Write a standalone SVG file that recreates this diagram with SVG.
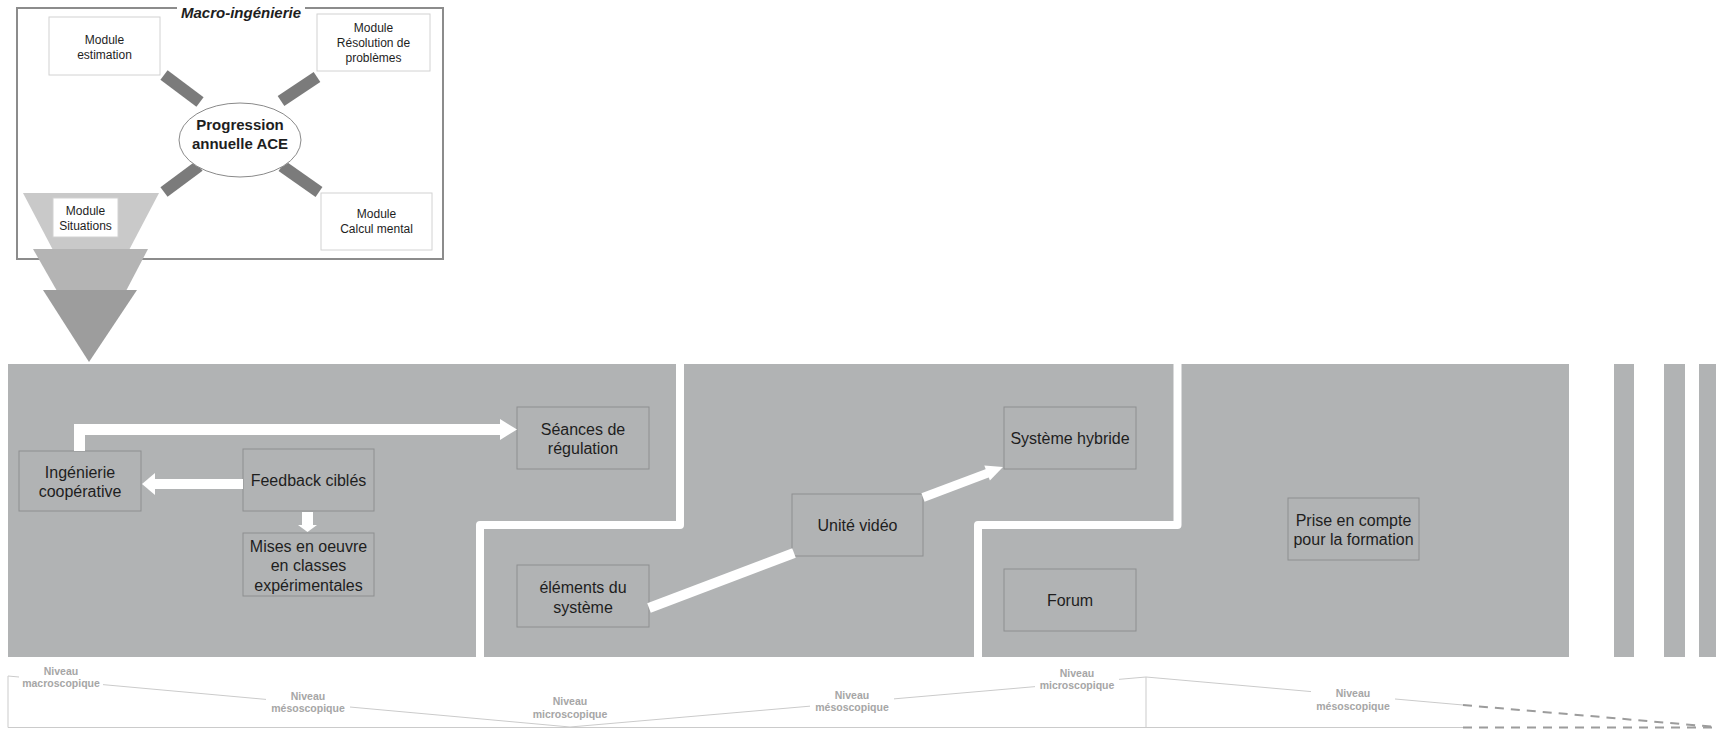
<svg xmlns="http://www.w3.org/2000/svg" width="1716" height="729" viewBox="0 0 1716 729">
<style>
.t{font-family:"Liberation Sans",Arial,sans-serif;fill:#1e1e1e;text-anchor:middle}
.m{font-size:12px}
.n{font-size:16px}
.b{font-weight:bold}
.box{fill:#b1b3b4;stroke:#8e8f90;stroke-width:1}
.mbox{fill:#fff;stroke:#d2d2d2;stroke-width:1}
.lvl{font-family:"Liberation Sans",Arial,sans-serif;font-size:10.5px;font-weight:bold;fill:#a6a6a6;text-anchor:middle}
.bar{stroke:#7b7b7b;stroke-width:12}
.wl{fill:none;stroke:#fff}
.lv{fill:none;stroke:#cbcbcb;stroke-width:1}
</style>
<rect width="1716" height="729" fill="#fff"/>

<g id="macro-ingenierie">
  <rect x="17" y="8" width="426" height="251" fill="#fff" stroke="#8c8c8c" stroke-width="2"/>
  <rect x="177" y="2" width="128" height="18" fill="#fff"/>
  <text class="t b" x="241" y="18" font-size="15" font-style="italic">Macro-ingénierie</text>
</g>

<g id="module-estimation">
  <rect class="mbox" x="49" y="17" width="111" height="58"/>
  <text class="t m" x="104.5" y="44">Module</text>
  <text class="t m" x="104.5" y="59">estimation</text>
</g>

<g id="module-resolution">
  <rect class="mbox" x="317" y="14" width="113" height="57"/>
  <text class="t m" x="373.5" y="32">Module</text>
  <text class="t m" x="373.5" y="47">Résolution de</text>
  <text class="t m" x="373.5" y="62">problèmes</text>
</g>

<g id="module-calcul">
  <rect class="mbox" x="321" y="193" width="111" height="57"/>
  <text class="t m" x="376.5" y="218">Module</text>
  <text class="t m" x="376.5" y="233">Calcul mental</text>
</g>

<g id="macro-connectors">
  <line class="bar" x1="164" y1="75" x2="200" y2="102"/>
  <line class="bar" x1="317" y1="77" x2="281" y2="101"/>
  <line class="bar" x1="199" y1="166" x2="164" y2="192"/>
  <line class="bar" x1="282" y1="166" x2="319" y2="192"/>
</g>

<g id="progression">
  <ellipse cx="240" cy="140" rx="61" ry="37" fill="#fff" stroke="#8a8a8a" stroke-width="1"/>
  <text class="t b" x="240" y="130" font-size="15">Progression</text>
  <text class="t b" x="240" y="149" font-size="15">annuelle ACE</text>
</g>

<g id="funnel">
  <polygon points="23,193 159,193 128,252 54,252" fill="#c9c9c9"/>
  <polygon points="33,249 148,249 126,291 57,291" fill="#b4b4b4"/>
  <polygon points="43,290 137,290 89,362" fill="#9d9d9d"/>
</g>

<g id="module-situations">
  <rect class="mbox" x="53" y="198" width="65" height="39"/>
  <text class="t m" x="85.5" y="215">Module</text>
  <text class="t m" x="85.5" y="230">Situations</text>
</g>

<g id="panel">
  <rect x="8" y="364" width="1561" height="293" fill="#b1b3b4"/>
  <rect x="1614" y="364" width="20" height="293" fill="#b1b3b4"/>
  <rect x="1664" y="364" width="21" height="293" fill="#b1b3b4"/>
  <rect x="1699" y="364" width="17" height="293" fill="#b1b3b4"/>
  <path class="wl" d="M680,360 V525 H480 V660" stroke-width="8" stroke-linejoin="round"/>
  <path class="wl" d="M1177.5,360 V525 H978 V660" stroke-width="8" stroke-linejoin="round"/>
</g>

<g id="ingenierie">
  <rect class="box" x="19" y="451" width="122" height="60"/>
  <text class="t n" x="80" y="478">Ingénierie</text>
  <text class="t n" x="80" y="497">coopérative</text>
</g>

<g id="feedback">
  <rect class="box" x="243" y="449" width="131" height="62"/>
  <text class="t n" x="308.5" y="486">Feedback ciblés</text>
</g>

<g id="mises">
  <rect class="box" x="243" y="533" width="131" height="63"/>
  <text class="t n" x="308.5" y="552">Mises en oeuvre</text>
  <text class="t n" x="308.5" y="571">en classes</text>
  <text class="t n" x="308.5" y="591">expérimentales</text>
</g>

<g id="seances">
  <rect class="box" x="517" y="407" width="132" height="62"/>
  <text class="t n" x="583" y="435">Séances de</text>
  <text class="t n" x="583" y="454">régulation</text>
</g>

<g id="elements">
  <rect class="box" x="517" y="565" width="132" height="62"/>
  <text class="t n" x="583" y="593">éléments du</text>
  <text class="t n" x="583" y="613">système</text>
</g>

<g id="unite-video">
  <rect class="box" x="792" y="494" width="131" height="62"/>
  <text class="t n" x="857.5" y="531">Unité vidéo</text>
</g>

<g id="systeme-hybride">
  <rect class="box" x="1004" y="407" width="132" height="62"/>
  <text class="t n" x="1070" y="444">Système hybride</text>
</g>

<g id="forum">
  <rect class="box" x="1004" y="569" width="132" height="62"/>
  <text class="t n" x="1070" y="606">Forum</text>
</g>

<g id="prise-en-compte">
  <rect class="box" x="1288" y="498" width="131" height="62"/>
  <text class="t n" x="1353.5" y="526">Prise en compte</text>
  <text class="t n" x="1353.5" y="545">pour la formation</text>
</g>

<g id="connectors" fill="#fff">
  <path class="wl" d="M79.5,451 V429.5 H502" stroke-width="11" stroke-linejoin="miter"/>
  <polygon points="500,419 517,429.5 500,440"/>
  <line class="wl" x1="243" y1="484" x2="154" y2="484" stroke-width="10"/>
  <polygon points="155,473 142,484 155,495"/>
  <line class="wl" x1="307.5" y1="512" x2="307.5" y2="527" stroke-width="11"/>
  <polygon points="298,525 317,525 307.5,532"/>
  <line class="wl" x1="649" y1="608" x2="794" y2="553" stroke-width="10"/>
  <line class="wl" x1="923" y1="497.5" x2="989" y2="472.6" stroke-width="9"/>
  <polygon points="1003,467 989.9,480.5 984.3,465.5"/>
</g>

<g id="levels">
  <path class="lv" d="M8,676 L570,727 L1146,677 L1463,705"/>
  <path class="lv" d="M8,676 V727.5 H1463"/>
  <path class="lv" d="M1146,677 V727.5"/>
  <path d="M1463,705 L1716,727 M1463,727.5 H1716" fill="none" stroke="#9c9c9c" stroke-width="2" stroke-dasharray="9,7"/>
  <g fill="#fff">
    <rect x="19" y="663" width="84" height="27"/>
    <rect x="266" y="688" width="84" height="27"/>
    <rect x="528" y="693" width="84" height="28"/>
    <rect x="810" y="687" width="84" height="27"/>
    <rect x="1035" y="665" width="84" height="27"/>
    <rect x="1311" y="685" width="84" height="28"/>
  </g>
  <text class="lvl" x="61" y="675">Niveau</text>
  <text class="lvl" x="61" y="687">macroscopique</text>
  <text class="lvl" x="308" y="700">Niveau</text>
  <text class="lvl" x="308" y="712">mésoscopique</text>
  <text class="lvl" x="570" y="705">Niveau</text>
  <text class="lvl" x="570" y="718">microscopique</text>
  <text class="lvl" x="852" y="699">Niveau</text>
  <text class="lvl" x="852" y="711">mésoscopique</text>
  <text class="lvl" x="1077" y="677">Niveau</text>
  <text class="lvl" x="1077" y="689">microscopique</text>
  <text class="lvl" x="1353" y="697">Niveau</text>
  <text class="lvl" x="1353" y="710">mésoscopique</text>
</g>
</svg>
